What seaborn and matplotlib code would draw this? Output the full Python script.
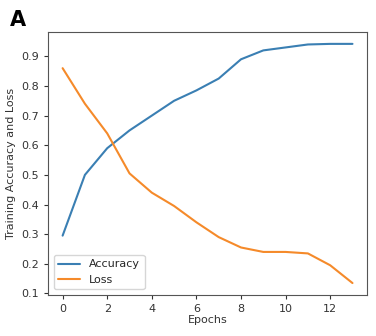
import matplotlib
matplotlib.use("Agg")
import matplotlib.pyplot as plt
import pandas as pd
import seaborn as sns

epochs = list(range(14))
accuracy = [0.295, 0.50, 0.59, 0.65, 0.70, 0.75, 0.785, 0.825, 0.89, 0.92, 0.93, 0.94, 0.942, 0.942]
loss = [0.86, 0.74, 0.64, 0.505, 0.44, 0.395, 0.34, 0.29, 0.255, 0.24, 0.24, 0.235, 0.195, 0.135]

df = pd.DataFrame({'Epochs': epochs * 2,
                   'value': accuracy + loss,
                   'series': ['Accuracy'] * len(epochs) + ['Loss'] * len(epochs)})

sns.set_style("ticks")
plt.rcParams['font.family'] = ['DejaVu Sans']
plt.rcParams['axes.edgecolor'] = '#555555'

fig = plt.figure(figsize=(3.76, 3.36), dpi=100)
ax = fig.add_axes([0.128, 0.122, 0.848, 0.783])
sns.lineplot(data=df, x='Epochs', y='value', hue='series',
             palette=['#3a7fb3', '#f58a2a'], linewidth=1.5, ax=ax)

ax.set_xticks(range(0, 13, 2))
ax.set_yticks([0.1, 0.2, 0.3, 0.4, 0.5, 0.6, 0.7, 0.8, 0.9])
ax.tick_params(labelsize=8, colors='#333333', length=3)
ax.set_xlabel('Epochs', fontsize=8, color='#333333', labelpad=1)
ax.set_ylabel('Training Accuracy and Loss', fontsize=8, color='#333333')
ax.legend(loc='lower left', fontsize=8, title=None, frameon=True)
for s in ax.spines.values():
    s.set_visible(True)

fig.text(0.025, 0.97, 'A', fontsize=15, fontweight='bold', color='black', va='top', ha='left')

fig.savefig('out.png', dpi=100)
